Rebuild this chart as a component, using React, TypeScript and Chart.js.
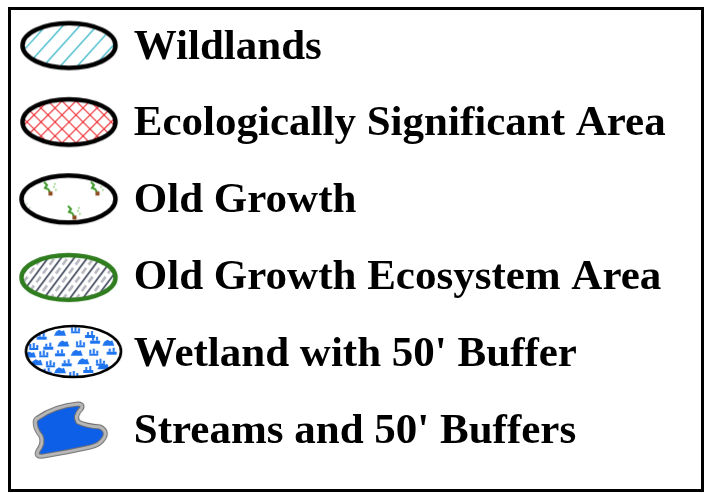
import React, { useEffect, useRef } from "react";
import { Chart, registerables } from "chart.js";
Chart.register(...registerables);

// ---- Legend content ----
const legendLabels = [
  "Wildlands",
  "Ecologically Significant Area",
  "Old Growth",
  "Old Growth Ecosystem Area",
  "Wetland with 50' Buffer",
  "Streams and 50' Buffers",
];
const symbolKinds = ["hatch", "crosshatch", "trees", "ogHatch", "wetland", "stream"];

const FONT_SIZE = 43;
const PAD = 33.9;
const BOX_W = 78.4;
const CANVAS_OFFSET = 8; // canvas sits 8px above the page top
const IMG_W = 160;
const IMG_H = 100;

type Ctx = CanvasRenderingContext2D;

function ellipsePath(ctx: Ctx, cx: number, cy: number, rx: number, ry: number) {
  ctx.beginPath();
  ctx.ellipse(cx, cy, rx, ry, 0, 0, Math.PI * 2);
}

function drawHatch(ctx: Ctx) {
  const cx = 69, cy = 45.5, rx = 46.5, ry = 22.3;
  ctx.save();
  ellipsePath(ctx, cx, cy, rx, ry);
  ctx.fillStyle = "#fff";
  ctx.fill();
  ctx.clip();
  ctx.strokeStyle = "#35b5c8";
  ctx.lineWidth = 1.3;
  for (let k = -90; k <= 90; k += 17) {
    ctx.beginPath();
    ctx.moveTo(cx + k - 40, cy + 42);
    ctx.lineTo(cx + k + 36, cy - 42);
    ctx.stroke();
  }
  ctx.restore();
  ellipsePath(ctx, cx, cy, rx, ry);
  ctx.lineWidth = 4.5;
  ctx.strokeStyle = "#000";
  ctx.stroke();
}

function drawCross(ctx: Ctx) {
  const cx = 69, cy = 122, rx = 46.5, ry = 22.8;
  ctx.save();
  ellipsePath(ctx, cx, cy, rx, ry);
  ctx.fillStyle = "#fff";
  ctx.fill();
  ctx.clip();
  ctx.strokeStyle = "#ee2a30";
  ctx.lineWidth = 1.1;
  for (let k = -98; k <= 98; k += 14) {
    ctx.beginPath();
    ctx.moveTo(cx + k - 40, cy + 40);
    ctx.lineTo(cx + k + 40, cy - 40);
    ctx.stroke();
    ctx.beginPath();
    ctx.moveTo(cx + k - 40, cy - 40);
    ctx.lineTo(cx + k + 40, cy + 40);
    ctx.stroke();
  }
  ctx.restore();
  ellipsePath(ctx, cx, cy, rx, ry);
  ctx.lineWidth = 4.5;
  ctx.strokeStyle = "#000";
  ctx.stroke();
}

function tree(ctx: Ctx, x: number, y: number) {
  ctx.strokeStyle = "#3f9a2a";
  ctx.lineWidth = 2;
  ctx.beginPath();
  ctx.moveTo(x, y - 1);
  ctx.lineTo(x - 2, y - 4);
  ctx.lineTo(x - 5, y - 5);
  ctx.lineTo(x - 3, y - 8);
  ctx.lineTo(x - 6, y - 11);
  ctx.stroke();
  ctx.fillStyle = "#8b4a1e";
  ctx.fillRect(x - 1.5, y - 1.5, 4, 4);
  ctx.fillStyle = "#9ad48a";
  ctx.fillRect(x + 3, y - 7, 1.8, 1.8);
  ctx.fillRect(x + 5, y - 4, 1.8, 1.8);
  ctx.fillRect(x + 4, y - 10, 1.8, 1.8);
}

function drawTrees(ctx: Ctx) {
  const cx = 68.5, cy = 199, rx = 47, ry = 23.5;
  ctx.save();
  ellipsePath(ctx, cx, cy, rx, ry);
  ctx.fillStyle = "#fff";
  ctx.fill();
  ctx.clip();
  tree(ctx, 50, 193);
  tree(ctx, 97, 193);
  tree(ctx, 74, 217);
  ctx.fillStyle = "#b5dcae";
  ctx.fillRect(26, 203, 1.5, 1.5);
  ctx.fillRect(29, 207, 1.5, 1.5);
  ctx.restore();
  ellipsePath(ctx, cx, cy, rx, ry);
  ctx.lineWidth = 4.5;
  ctx.strokeStyle = "#000";
  ctx.stroke();
}

function drawOgHatch(ctx: Ctx) {
  const cx = 68.5, cy = 277.5, rx = 47, ry = 22.3;
  ctx.save();
  ellipsePath(ctx, cx, cy, rx, ry);
  ctx.fillStyle = "#fff";
  ctx.fill();
  ctx.clip();
  ctx.strokeStyle = "#b9b9c2";
  ctx.lineWidth = 2.6;
  ctx.setLineDash([7, 4]);
  for (let k = -100; k <= 100; k += 13) {
    ctx.beginPath();
    ctx.moveTo(cx + k + 6.5 - 30, cy + 40);
    ctx.lineTo(cx + k + 6.5 + 30, cy - 40);
    ctx.stroke();
  }
  ctx.setLineDash([]);
  ctx.strokeStyle = "#4d5466";
  ctx.lineWidth = 1.8;
  for (let k = -100; k <= 100; k += 13) {
    ctx.beginPath();
    ctx.moveTo(cx + k - 30, cy + 40);
    ctx.lineTo(cx + k + 30, cy - 40);
    ctx.stroke();
  }
  ctx.restore();
  ellipsePath(ctx, cx, cy, rx, ry);
  ctx.lineWidth = 4.5;
  ctx.strokeStyle = "#2f7d1e";
  ctx.stroke();
}

const wetMarks: [number, number][] = [
  [41.7, 336.7], [60, 333.3], [75, 329.3], [90, 335], [108.3, 343.3],
  [33.3, 346], [48.3, 346.7], [63.3, 344], [80, 343.3], [95, 340.7],
  [30, 355], [43.3, 353.3], [60, 353.3], [76.7, 353.3], [93.3, 351.7], [111.7, 351.7],
  [36.7, 362.7], [50, 363.3], [66.7, 363.3], [83.3, 361.7], [100, 361.7],
  [46.7, 371.7], [60, 370.7], [73.3, 374], [88.3, 370], [103.3, 366.7],
];

function wetMark(ctx: Ctx, x: number, y: number, kind: number) {
  ctx.fillStyle = "#1f74f0";
  if (kind === 0) {
    ctx.fillRect(x - 5, y, 10, 3);
    ctx.fillRect(x - 3, y - 3, 2, 3);
    ctx.fillRect(x + 1, y - 4, 2, 4);
  } else if (kind === 1) {
    ctx.beginPath();
    ctx.moveTo(x - 6, y + 2.5);
    ctx.lineTo(x - 4, y - 1.5);
    ctx.lineTo(x - 1, y - 3.5);
    ctx.lineTo(x + 2, y - 2);
    ctx.lineTo(x + 4, y - 3);
    ctx.lineTo(x + 6, y + 2.5);
    ctx.closePath();
    ctx.fill();
  } else {
    ctx.fillRect(x - 4, y - 2, 2, 4);
    ctx.fillRect(x - 0.5, y - 3, 2, 5);
    ctx.fillRect(x + 3, y - 1, 2, 3);
    ctx.fillRect(x - 4, y + 2, 9, 2);
  }
}

function drawWetland(ctx: Ctx) {
  const cx = 73.5, cy = 351.5, rx = 47.5, ry = 25.5;
  ctx.save();
  ellipsePath(ctx, cx, cy, rx, ry);
  ctx.fillStyle = "#fff";
  ctx.fill();
  ctx.clip();
  wetMarks.forEach(([x, y], i) => wetMark(ctx, x, y, i % 3));
  ctx.restore();
  ellipsePath(ctx, cx, cy, rx, ry);
  ctx.lineWidth = 2.6;
  ctx.strokeStyle = "#000";
  ctx.stroke();
}

function drawStream(ctx: Ctx) {
  ctx.beginPath();
  ctx.moveTo(37.3, 418.3);
  ctx.quadraticCurveTo(55, 406, 78.3, 404);
  ctx.quadraticCurveTo(84, 404.5, 81, 409);
  ctx.quadraticCurveTo(74, 416, 78, 422);
  ctx.quadraticCurveTo(86, 426, 100, 427);
  ctx.quadraticCurveTo(108, 431, 104, 438);
  ctx.quadraticCurveTo(100, 445, 90, 447);
  ctx.quadraticCurveTo(68, 452, 43.3, 456);
  ctx.quadraticCurveTo(35, 457, 38, 451);
  ctx.quadraticCurveTo(44, 443, 41, 436);
  ctx.quadraticCurveTo(36, 430, 35.5, 425);
  ctx.quadraticCurveTo(34.5, 420, 37.3, 418.3);
  ctx.closePath();
  ctx.fillStyle = "#0e5fe8";
  ctx.fill();
  ctx.lineJoin = "round";
  ctx.strokeStyle = "#6f6f6f";
  ctx.lineWidth = 5;
  ctx.stroke();
  ctx.strokeStyle = "#b8b8b8";
  ctx.lineWidth = 3;
  ctx.stroke();
}

const drawers: Record<string, (ctx: Ctx) => void> = {
  hatch: drawHatch,
  crosshatch: drawCross,
  trees: drawTrees,
  ogHatch: drawOgHatch,
  wetland: drawWetland,
  stream: drawStream,
};

function makeSymbol(kind: string, i: number): HTMLCanvasElement {
  const c = document.createElement("canvas");
  c.width = IMG_W;
  c.height = IMG_H;
  const ctx = c.getContext("2d")!;
  const cxPage = PAD + BOX_W / 2;
  const cyPage = PAD + (FONT_SIZE + PAD) * i + FONT_SIZE / 2 - CANVAS_OFFSET;
  ctx.translate(IMG_W / 2 - cxPage, IMG_H / 2 - cyPage);
  drawers[kind](ctx);
  return c;
}

const framePlugin = {
  id: "frame",
  afterDraw(chart: Chart) {
    const c = chart.ctx;
    c.save();
    c.strokeStyle = "#000";
    c.lineWidth = 3;
    c.strokeRect(9.5, 8.5 + CANVAS_OFFSET, 693, 482);
    c.restore();
  },
};

export default function App() {
  const ref = useRef<HTMLCanvasElement>(null);
  useEffect(() => {
    const canvas = ref.current!;
    const symbols = legendLabels.map((_, i) => makeSymbol(symbolKinds[i], i));
    const chart = new Chart(canvas, {
      type: "scatter",
      data: {
        datasets: legendLabels.map((label) => ({ label, data: [] as { x: number; y: number }[] })),
      },
      options: {
        responsive: false,
        animation: false,
        devicePixelRatio: 1,
        layout: { padding: 0 },
        scales: {
          x: { type: "linear", display: false },
          y: { type: "linear", display: false },
        },
        plugins: {
          tooltip: { enabled: false },
          legend: {
            display: true,
            position: "left",
            align: "start",
            maxWidth: 706,
            labels: {
              usePointStyle: true,
              pointStyleWidth: BOX_W,
              boxHeight: FONT_SIZE,
              padding: PAD,
              color: "#000",
              font: {
                family: "'Liberation Serif', 'Times New Roman', serif",
                size: FONT_SIZE,
                weight: "bold",
                lineHeight: 1,
              },
              generateLabels: () =>
                legendLabels.map((text, i) => ({
                  text,
                  pointStyle: symbols[i],
                  fillStyle: "#fff",
                  strokeStyle: "#000",
                  lineWidth: 0,
                  hidden: false,
                  datasetIndex: i,
                  fontColor: "#000",
                })),
            },
          },
        },
      },
      plugins: [framePlugin],
    } as any);
    return () => chart.destroy();
  }, []);
  return (
    <div
      style={{
        position: "fixed",
        left: 0,
        top: 0,
        width: 706,
        height: 493,
        overflow: "hidden",
        background: "#fff",
      }}
    >
      <canvas
        ref={ref}
        width={706}
        height={540}
        style={{ position: "absolute", left: 0, top: -CANVAS_OFFSET, width: 706, height: 540 }}
      />
    </div>
  );
}
